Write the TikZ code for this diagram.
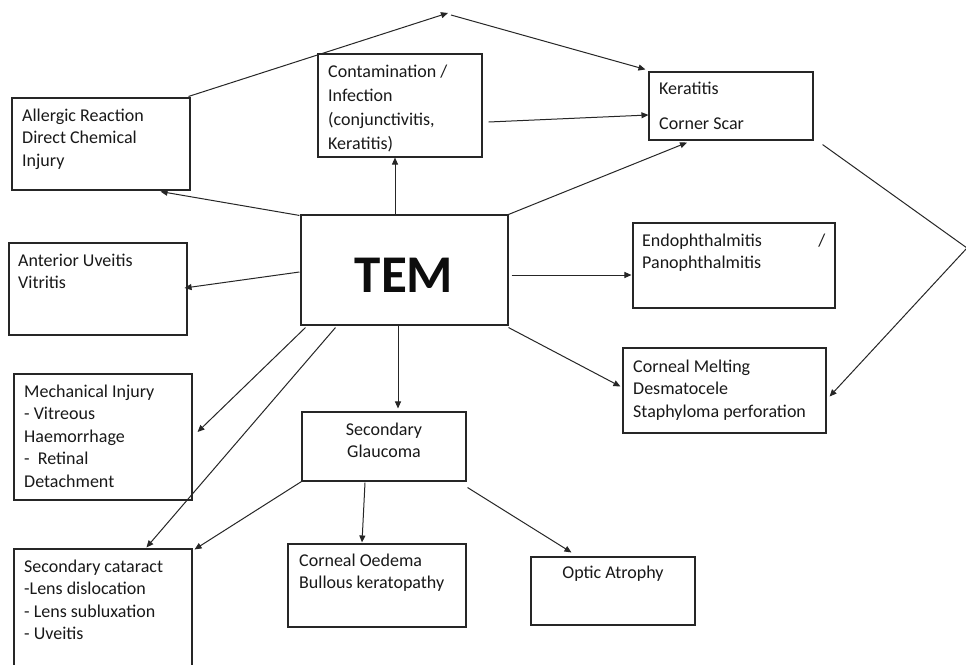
\documentclass[tikz,border=0pt]{standalone}
\usepackage{fontspec}
\setmainfont{Carlito}
\usetikzlibrary{arrows.meta,calc}
\newcommand{\fl}{\rule{0pt}{16pt}}
\begin{document}
\begin{tikzpicture}[x=1pt,y=-1pt,
  box/.style={draw=black!85, line width=1.1pt, rectangle, inner sep=0pt},
  txt/.style={anchor=north west, inner sep=0pt, align=left, text=black!90,
    font=\fontsize{18}{22.5}\selectfont},
  ctxt/.style={txt, anchor=north, align=center},
  arr/.style={draw=black!85, line width=1pt, -{Triangle[length=7pt,width=6pt]}},
  ln/.style={draw=black!85, line width=1pt}]
\useasboundingbox[fill=white] (0,0) rectangle (966,664);
% boxes
\node[box, minimum width=178pt, minimum height=92pt] (allergic) at (101,144) {};
\node[box, minimum width=164pt, minimum height=103pt] (contam) at (400,105.5) {};
\node[box, minimum width=164pt, minimum height=68pt] (kerat) at (731,106) {};
\node[box, minimum width=207pt, minimum height=110pt] (tem) at (404.5,270) {};
\node[box, minimum width=178pt, minimum height=92pt] (uveitis) at (98,289) {};
\node[box, minimum width=178pt, minimum height=126pt] (mech) at (103,437) {};
\node[box, minimum width=164pt, minimum height=69pt] (glauc) at (384,446.5) {};
\node[box, minimum width=202pt, minimum height=85pt] (endo) at (734,265.5) {};
\node[box, minimum width=203pt, minimum height=85pt] (melt) at (724.5,390.5) {};
\node[box, minimum width=178pt, minimum height=131pt] (cataract) at (103,614.5) {};
\node[box, minimum width=178pt, minimum height=83pt] (oedema) at (377,585.5) {};
\node[box, minimum width=164pt, minimum height=68pt] (optic) at (613,591) {};
% texts
\node[txt] (tallergic) at (22,105) {\fl Allergic Reaction\\Direct Chemical\\Injury};
\node[txt, font=\fontsize{18}{24}\selectfont] (tcontam) at (328,61) {\fl Contamination /\\Infection\\(conjunctivitis,\\Keratitis)};
\node[txt] (tkerat) at (659,78) {\fl Keratitis\\[12.5pt]Corner Scar};
\node[anchor=base, inner sep=0pt, text=black!95, font=\fontsize{53}{60}\selectfont\bfseries] (ttem) at (404,292) {TEM};
\node[txt] (tuveitis) at (18,250) {\fl Anterior Uveitis\\Vitritis};
\node[txt] (tmech) at (24,381) {\fl Mechanical Injury\\- Vitreous\\Haemorrhage\\-\ \ Retinal\\Detachment};
\node[ctxt] (tglauc) at (384,419) {\fl Secondary\\Glaucoma};
\node[txt, text width=183pt] (tendo) at (642,230) {\fl Endophthalmitis\hfill /\\Panophthalmitis};
\node[txt] (tmelt) at (633,356) {\fl Corneal Melting\\Desmatocele\\Staphyloma perforation};
\node[txt] (tcataract) at (24,556) {\fl Secondary cataract\\-Lens dislocation\\- Lens subluxation\\- Uveitis};
\node[txt] (toedema) at (299,550) {\fl Corneal Oedema\\Bullous keratopathy};
\node[ctxt] (toptic) at (613,562) {\fl Optic Atrophy};
% connectors
\coordinate (peak) at (448,13);
\coordinate (peakb) at (451,15);
\coordinate (rv) at (967,248);
\draw[arr] ($(allergic.north east)+(-2,-1)$) -- (peak);
\draw[arr] (peakb) -- ($(kerat.north west)+(-3,-2)$);
\draw[arr] ($(contam.east)+(6,16.5)$) -- ($(kerat.west)+(0,9)$);
\draw[arr] (tem.north east) -- ($(kerat.south)+(-44,2)$);
\draw[ln] ($(kerat.south east)+(9,4)$) -- (rv);
\draw[arr] (rv) -- ($(melt.east)+(3,6)$);
\draw[arr] ($(tem.north west)+(-1,1)$) -- ($(allergic.south east)+(-30,1)$);
\draw[arr] ($(tem.north)+(-9.5,0)$) -- ($(contam.south)+(-5,0)$);
\draw[arr] ($(tem.west)+(-1,2)$) -- ($(uveitis.east)+(-3,-1)$);
\draw[arr] ($(tem.east)+(3,5)$) -- ($(endo.west)+(-1,9.5)$);
\draw[arr] ($(tem.south east)+(0,2)$) -- ($(melt.west)+(-2,-4)$);
\draw[arr] ($(tem.south west)+(5,2)$) -- ($(mech.east)+(5,-5)$);
\draw[arr] ($(tem.south west)+(35,2)$) -- ($(cataract.north west)+(133,-1)$);
\draw[arr] ($(tem.south)+(-6.5,0)$) -- ($(glauc.north)+(14,-3)$);
\draw[arr] (glauc.south west) -- ($(cataract.north east)+(2,1)$);
\draw[arr] ($(glauc.south)+(-19,1)$) -- ($(oedema.north)+(-15,-1)$);
\draw[arr] ($(glauc.south east)+(1,6)$) -- ($(optic.north west)+(41,-4)$);
\end{tikzpicture}
\end{document}
